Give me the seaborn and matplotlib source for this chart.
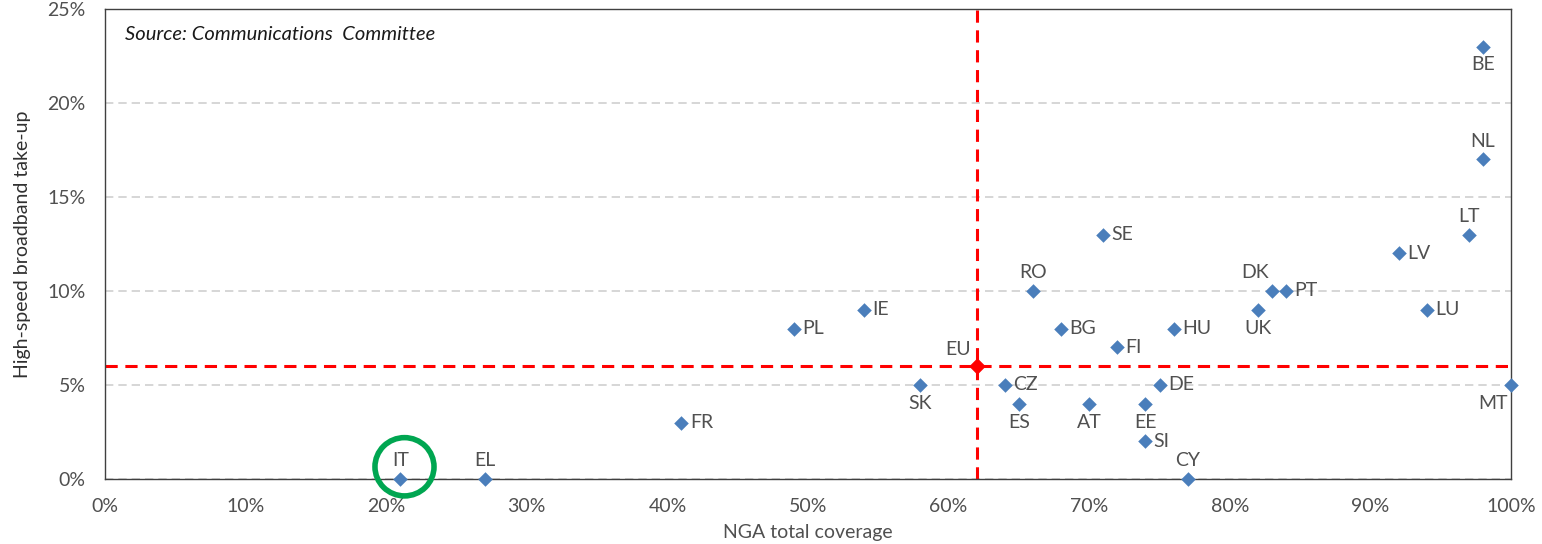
import matplotlib
matplotlib.use("Agg")
import matplotlib.pyplot as plt
from matplotlib.patches import Ellipse
from matplotlib.ticker import FuncFormatter, MultipleLocator
import seaborn as sns
import pandas as pd

# NGA coverage (%) vs high-speed broadband take-up (%) by country
countries = ["BE", "NL", "LT", "LV", "LU", "MT", "DK", "PT", "UK", "SE",
             "RO", "HU", "BG", "FI", "IE", "PL", "SK", "CZ", "DE", "ES",
             "AT", "EE", "SI", "CY", "FR", "IT", "EL"]
coverage = [98, 98, 97, 92, 94, 100, 83, 84, 82, 71,
            66, 76, 68, 72, 54, 49, 58, 64, 75, 65,
            70, 74, 74, 77, 41, 21, 27]
takeup = [23, 17, 13, 12, 9, 5, 10, 10, 9, 13,
          10, 8, 8, 7, 9, 8, 5, 5, 5, 4,
          4, 4, 2, 0, 3, 0, 0]
label_side = ["below", "above", "above", "right", "right", "below_left", "above_left", "right", "below", "right",
              "above", "right", "right", "right", "right", "right", "below", "right", "right", "below",
              "below", "below", "right", "above", "right", "above", "above"]

eu_coverage = 62
eu_takeup = 6

df = pd.DataFrame({"country": countries, "coverage": coverage, "takeup": takeup, "side": label_side})

sns.set_theme(style="white")
plt.rcParams["font.family"] = ["Lato", "DejaVu Sans"]

fig = plt.figure(figsize=(15.42, 5.44), dpi=100)
ax = fig.add_axes([0.0681, 0.1195, 0.9118, 0.864])

blue = "#4a7ebb"
text_col = "#505050"

ax.set_xlim(0, 100)
ax.set_ylim(0, 25)
ax.yaxis.set_major_locator(MultipleLocator(5))
ax.xaxis.set_major_locator(MultipleLocator(10))
ax.grid(axis="y", color="#d0d0d0", linestyle=(0, (5, 3)), linewidth=1.2)
ax.set_axisbelow(True)

# reference lines through the EU average
ax.axvline(eu_coverage, color="#ff0000", linestyle=(0, (4, 2.5)), linewidth=2.2, zorder=2)
ax.axhline(eu_takeup, color="#ff0000", linestyle=(0, (4, 2.5)), linewidth=2.2, zorder=2)

sns.scatterplot(data=df, x="coverage", y="takeup", marker="D", s=55, color=blue,
                edgecolor=blue, linewidth=0, ax=ax, zorder=4, clip_on=False)
ax.scatter([eu_coverage], [eu_takeup], marker="D", s=55, color="#ff0000", zorder=5)

offsets = {
    "right": ((6, 0), "left", "center"),
    "above": ((0, 7), "center", "bottom"),
    "below": ((0, -7), "center", "top"),
    "above_left": ((-2, 7), "right", "bottom"),
    "below_left": ((-2, -7), "right", "top"),
}
for c, x, y, side in zip(countries, coverage, takeup, label_side):
    off, ha, va = offsets[side]
    ax.annotate(c, (x, y), xytext=off, textcoords="offset points", ha=ha, va=va,
                fontsize=14, color=text_col, zorder=6, annotation_clip=False)
ax.annotate("EU", (eu_coverage, eu_takeup), xytext=(-4, 6), textcoords="offset points",
            ha="right", va="bottom", fontsize=14, color=text_col, zorder=6)

# highlight Italy
it_idx = countries.index("IT")
ax.add_patch(Ellipse((coverage[it_idx] + 0.3, 0.65), width=4.2, height=3.1, fill=False,
                     edgecolor="#00a651", linewidth=4, clip_on=False, zorder=7))

pct = FuncFormatter(lambda v, _: f"{v:.0f}%")
ax.xaxis.set_major_formatter(pct)
ax.yaxis.set_major_formatter(pct)
ax.tick_params(axis="both", labelsize=14, colors=text_col, length=0)
ax.tick_params(axis="x", pad=14)
ax.tick_params(axis="y", pad=14)

for s in ax.spines.values():
    s.set_color("#404040")
    s.set_linewidth(1.0)

ax.set_xlabel("NGA total coverage", fontsize=14, color=text_col, labelpad=6)
ax.set_ylabel("High-speed broadband take-up", fontsize=14, color="#303030", labelpad=12)

ax.text(0.014, 0.945, "Source: Communications  Committee", transform=ax.transAxes,
        fontsize=14.5, style="italic", color="#1a1a1a", ha="left", va="center")

fig.savefig("out.png", dpi=100)
